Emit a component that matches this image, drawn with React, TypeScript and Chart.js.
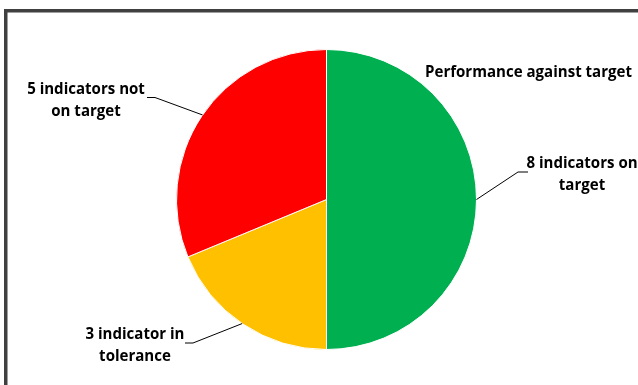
import React, { useEffect, useRef } from "react";
import { Chart, registerables } from "chart.js";

Chart.register(...registerables);

const categories = ["8 indicators on target", "3 indicator in tolerance", "5 indicators not on target"];
const values = [8, 3, 5];
const colors = ["#00B050", "#FFC000", "#FF0000"];
const labelLines = [["8 indicators on", "target"], ["3 indicator in", "tolerance"], ["5 indicators not", "on target"]];
const titleText = "Performance against target";

// layout of labels / leaders (pixels)
const labelLayout = [
  { cx: 582, y: 163.5, edgeDeg: 90, elbow: [518, 172], end: [528, 172] },
  { cx: 135, y: 334.5, edgeDeg: 214.2, elbow: [193, 343], end: [185, 343] },
  { cx: 86, y: 89.5, edgeDeg: 304.3, elbow: [155, 97.5], end: [147, 97.5] },
];

const FAMILY = "'Open Sans', Lato, sans-serif";
const TITLE_WIDTH = 207;

const decorPlugin = {
  id: "decor",
  beforeDraw(chart: any) {
    const ctx = chart.ctx;
    ctx.save();
    ctx.fillStyle = "#ffffff";
    ctx.fillRect(0, 0, chart.width, chart.height);
    ctx.strokeStyle = "#404040";
    ctx.lineWidth = 3.5;
    ctx.strokeRect(5.75, 10.75, 800, 600);
    ctx.restore();
  },
  afterDraw(chart: any) {
    const ctx = chart.ctx;
    const meta = chart.getDatasetMeta(0);
    const arc = meta.data[0];
    const cx = arc.x, cy = arc.y, r = arc.outerRadius;
    ctx.save();
    ctx.font = `bold 14px ${FAMILY}`;
    const w = ctx.measureText(titleText).width;
    const size = (14 * TITLE_WIDTH) / w;
    ctx.font = `bold ${size.toFixed(2)}px ${FAMILY}`;
    ctx.fillStyle = "#000000";
    ctx.textAlign = "center";
    ctx.textBaseline = "middle";
    ctx.fillText(titleText, 528.5, 72.5);
    labelLayout.forEach((l, i) => {
      const lines = labelLines[i];
      lines.forEach((t, j) => ctx.fillText(t, l.cx, l.y + j * 22));
      const a = ((l.edgeDeg - 90) * Math.PI) / 180;
      const ex = cx + r * Math.cos(a);
      const ey = cy + r * Math.sin(a);
      ctx.beginPath();
      ctx.strokeStyle = "#000000";
      ctx.lineWidth = 1;
      ctx.moveTo(ex, ey);
      ctx.lineTo(l.elbow[0], l.elbow[1]);
      ctx.lineTo(l.end[0], l.end[1]);
      ctx.stroke();
    });
    ctx.restore();
  },
};

export default function App() {
  const ref = useRef<HTMLCanvasElement>(null);
  useEffect(() => {
    document.body.style.margin = "0";
    const chart = new Chart(ref.current!, {
      type: "pie",
      data: {
        labels: categories,
        datasets: [
          {
            data: values,
            backgroundColor: colors,
            borderColor: "#ffffff",
            borderWidth: 1,
          },
        ],
      },
      options: {
        animation: false,
        responsive: false,
        layout: { padding: { left: 176, right: 161, top: 49, bottom: 35 } },
        plugins: {
          legend: { display: false },
          tooltip: { enabled: false },
          title: { display: false },
        },
      },
      plugins: [decorPlugin],
    });
    return () => chart.destroy();
  }, []);
  return (
    <div style={{ position: "fixed", left: 0, top: 0, width: 638, height: 385 }}>
      <canvas ref={ref} width={638} height={385} style={{ width: 638, height: 385 }} />
    </div>
  );
}
